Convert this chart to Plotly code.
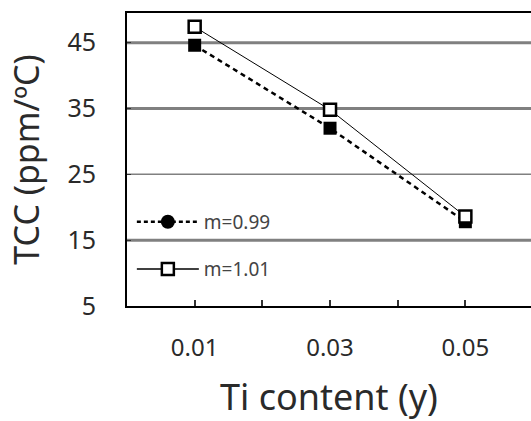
import plotly.graph_objects as go

ti_content = [0.01, 0.03, 0.05]
tcc_m099 = [44.6, 32.0, 17.8]
tcc_m101 = [47.4, 34.8, 18.6]
series_names = ["m=0.99", "m=1.01"]

x_tick_vals = [0.01, 0.03, 0.05]
x_tick_text = ["0.01", "0.03", "0.05"]
y_tick_vals = [5, 15, 25, 35, 45]
y_grid_vals = [15, 25, 35, 45]
y_grid_widths = [3, 1.5, 3, 3]

FONT = "Noto Sans"
TXT = "#2a2a2a"

fig = go.Figure()

# data traces
fig.add_trace(go.Scatter(
    x=ti_content, y=tcc_m099, mode="lines+markers", name=series_names[0],
    line=dict(color="black", width=2.5, dash="5px,4px"),
    marker=dict(symbol="square", size=13, color="black"),
    showlegend=False,
))
fig.add_trace(go.Scatter(
    x=ti_content, y=tcc_m101, mode="lines+markers", name=series_names[1],
    line=dict(color="black", width=1),
    marker=dict(symbol="square", size=12, color="white", line=dict(color="black", width=2.5)),
    showlegend=False,
))

# legend entries
fig.add_trace(go.Scatter(
    x=[None], y=[None], mode="lines+markers", name=series_names[0],
    line=dict(color="black", width=2.5, dash="4px,3px"),
    marker=dict(symbol="circle", size=14, color="black"),
    legend="legend",
))
fig.add_trace(go.Scatter(
    x=[None], y=[None], mode="lines+markers", name=series_names[1],
    line=dict(color="black", width=1.5),
    marker=dict(symbol="square", size=12, color="white", line=dict(color="black", width=2.5)),
    legend="legend2",
))

for v, w in zip(y_grid_vals, y_grid_widths):
    fig.add_shape(type="line", xref="paper", x0=0, x1=1, yref="y", y0=v, y1=v,
                  line=dict(color="#808080", width=w), layer="below")

legend_common = dict(
    font=dict(family=FONT, size=19, color="#444444"),
    bgcolor="rgba(0,0,0,0)", borderwidth=0, xanchor="left", yanchor="middle",
    itemwidth=62,
)

fig.update_layout(
    width=531, height=421,
    margin=dict(l=127, r=0, t=13, b=115),
    paper_bgcolor="white", plot_bgcolor="white",
    font=dict(family=FONT, color=TXT),
    legend=dict(x=0.012, y=0.287, **legend_common),
    legend2=dict(x=0.012, y=0.126, **legend_common),
    xaxis=dict(
        range=[0, 0.0597], showgrid=False, zeroline=False, automargin=False,
        showline=True, linecolor="black", linewidth=2, mirror=True,
        tickvals=x_tick_vals, ticktext=x_tick_text,
        ticks="inside", ticklen=6, tickcolor="#333333", tickwidth=2,
        minor=dict(tick0=0, dtick=0.01, ticks="inside", ticklen=6, tickcolor="#333333", tickwidth=2),
        tickfont=dict(family=FONT, size=24, color=TXT),
        ticklabelstandoff=19,
        title=dict(text="Ti content (y)", font=dict(family=FONT, size=36, color=TXT), standoff=24),
    ),
    yaxis=dict(
        range=[5, 49.5], showgrid=False, zeroline=False, automargin=False,
        showline=True, linecolor="black", linewidth=2,
        tickvals=y_tick_vals, ticks="inside", ticklen=4, tickcolor="#333333",
        tickfont=dict(family=FONT, size=25, color=TXT),
        ticklabelstandoff=24,
        title=dict(text="TCC (ppm/ºC)", font=dict(family=FONT, size=34, color=TXT), standoff=17),
    ),
)

fig.write_html("out.html", config={"displayModeBar": False},
               post_script="document.body.style.margin='0px';document.body.style.overflow='hidden';")
